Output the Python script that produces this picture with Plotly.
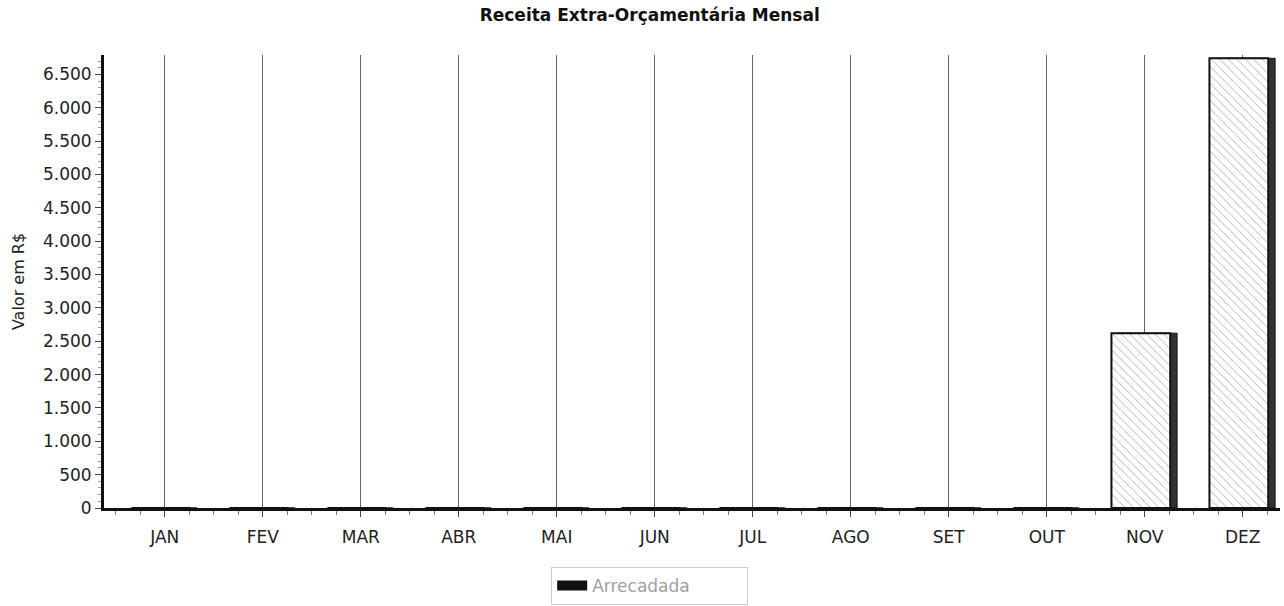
import plotly.graph_objects as go

meses = ["JAN", "FEV", "MAR", "ABR", "MAI", "JUN", "JUL", "AGO", "SET", "OUT", "NOV", "DEZ"]
arrecadada = [0, 0, 0, 0, 0, 0, 0, 0, 0, 0, 2620, 6740]
y_ticks = list(range(0, 7000, 500))

FONT = "DejaVu Sans, Liberation Sans, Arial, sans-serif"

fig = go.Figure()

# depth (3D side) of bars
fig.add_trace(go.Bar(
    x=meses, y=arrecadada, width=0.6, offset=-0.27,
    marker=dict(color="#333333", line=dict(color="#111111", width=1)),
    showlegend=False, hoverinfo="skip",
))
# front face with hatching
fig.add_trace(go.Bar(
    x=meses, y=arrecadada, width=0.6, offset=-0.34,
    marker=dict(color="white", line=dict(color="#111111", width=2),
                pattern=dict(shape="\\", fgcolor="#333333", bgcolor="white", size=6, solidity=0.12)),
    showlegend=False, name="Arrecadada",
))
# legend entry (wide black swatch)
fig.add_trace(go.Scatter(
    x=[None], y=[None], name="Arrecadada", mode="lines",
    line=dict(color="#111111", width=14),
))

fig.update_layout(
    width=1284, height=606,
    barmode="overlay",
    separators=",.",
    paper_bgcolor="white", plot_bgcolor="white",
    margin=dict(l=104, r=4, t=55, b=98, autoexpand=False),
    font=dict(family=FONT, color="#222222", size=16),
    title=dict(text="<b>Receita Extra-Orçamentária Mensal</b>", x=0.506, xref="container",
               y=0.975, yanchor="middle", font=dict(family=FONT, size=17, color="#111111")),
    showlegend=True,
    legend=dict(orientation="h", x=0.464, xanchor="center", entrywidth=150,
                y=-0.172, yanchor="middle", bordercolor="#cccccc", borderwidth=1,
                font=dict(family=FONT, color="#a0a0a0", size=17), bgcolor="white"),
    xaxis=dict(
        range=[-0.62, 11.38],
        showline=True, linecolor="#111111", linewidth=3,
        showgrid=True, gridcolor="#666666", gridwidth=1,
        ticks="outside", ticklen=6, tickcolor="#444444", ticklabelstandoff=6,
        minor=dict(ticks="outside", ticklen=4, tickcolor="#777777", tickmode="array",
                   tickvals=[i + f for i in range(0, 12) for f in (-0.5, -0.25, 0.25)]),
        tickfont=dict(family=FONT, size=17, color="#222222"),
        zeroline=False,
    ),
    yaxis=dict(
        range=[0, 6790],
        tickvals=y_ticks, tickformat=",d",
        showline=True, linecolor="#111111", linewidth=3,
        showgrid=False, zeroline=False,
        ticks="outside", ticklen=6, tickcolor="#444444",
        minor=dict(ticks="outside", ticklen=3, tickcolor="#999999", dtick=100),
        title=dict(text="Valor em R$", font=dict(family=FONT, size=16, color="#222222"), standoff=15),
        tickfont=dict(family=FONT, size=17, color="#222222"),
    ),
)

fig.write_html("out.html", config={"displayModeBar": False},
               post_script="document.body.style.margin='0';")
